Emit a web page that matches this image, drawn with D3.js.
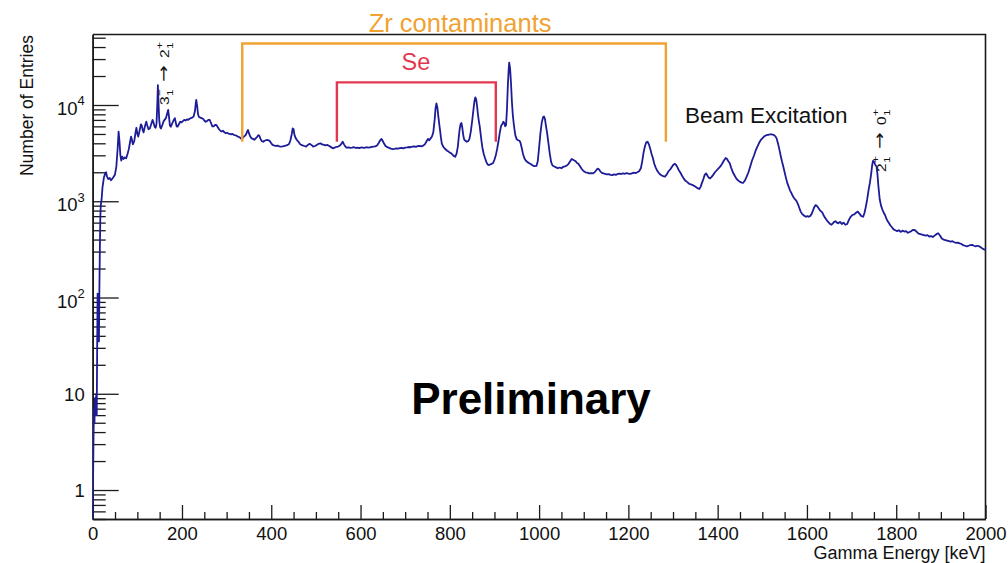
<!DOCTYPE html>
<html>
<head>
<meta charset="utf-8">
<script src="https://cdn.jsdelivr.net/npm/d3@7"></script>
<style>
  html, body { margin: 0; padding: 0; background: #fff; }
  svg { display: block; font-family: "Liberation Sans", Arial, Helvetica, sans-serif; }
</style>
</head>
<body>
<svg id="chart" width="1008" height="563"></svg>
<script>
// Gamma-ray spectrum: [energy (keV), entries]
const spectrumPoints = [
  [0,0.5],[1,1.5],[2,4],[3,7],[4,5],[5,9],[6,6],[7,8],[8,10],[9,6],[10,30],[11,110],[12,45],[13,95],[14,35],[15,125],
  [16,300],[17,650],[18,900],[20,1050],[22,1400],[25,1750],[28,1950],[30,2000],[32,1800],[35,1700],[38,1750],[41,1650],
  [44,1720],[47,1800],[50,1900],[53,2300],[56,3600],[58,5300],[60,4200],[62,3000],[64,2650],[66,2900],[69,2750],[72,2850],
  [75,2800],[78,3100],[81,3500],[84,4200],[86,4700],[88,4300],[90,3900],[93,4200],[96,5200],[98,5800],[100,5000],[102,4700],
  [105,5400],[108,6300],[110,6100],[112,5500],[114,5200],[117,6000],[120,6700],[122,6200],[125,5600],[128,5700],[131,6300],
  [134,7000],[136,6600],[139,5900],[141,5800],[143,6400],[145,11000],[146,16100],[147,12000],[149,7000],[151,5900],[153,5700],
  [156,6200],[159,6800],[161,7000],[164,7300],[167,8200],[169,8900],[171,7500],[173,6100],[175,5950],[178,6400],[181,6900],
  [184,7300],[186,6600],[188,6000],[190,5950],[193,6300],[196,6700],[199,6600],[202,6800],[205,7000],[208,6900],[211,7100],
  [214,7000],[217,7200],[220,7300],[223,7400],[226,7600],[229,8600],[231,10500],[232,11300],[234,9800],[236,8000],[238,7500],
  [241,7400],[244,7300],[247,7200],[250,6900],[253,6700],[256,6800],[259,7000],[262,7000],[265,6500],[268,6000],[271,6000],
  [274,6200],[277,6200],[280,5900],[283,5600],[286,5400],[289,5300],[292,5400],[295,5200],[298,5100],[301,5150],[304,5050],
  [307,5000],[310,4950],[313,5000],[316,4900],[319,4850],[322,4800],[325,4700],[328,4650],[331,4550],[334,4400],[337,4600],
  [340,4750],[343,4900],[346,5300],[348,5500],[350,5100],[353,4700],[356,4500],[359,4450],[362,4350],[365,4500],[368,4650],
  [371,4850],[373,4800],[376,4450],[379,4200],[382,4150],[385,4250],[388,4300],[391,4350],[394,4300],[397,4200],[400,4000],
  [403,3850],[406,3800],[410,3750],[414,3780],[418,3720],[422,3700],[426,3720],[430,3760],[434,3800],[437,3850],[440,3950],
  [443,4300],[446,5000],[448,5700],[450,5600],[452,4900],[455,4500],[458,4300],[461,4150],[464,3950],[467,3850],[470,3800],
  [474,3750],[478,3700],[482,3850],[486,3950],[490,3850],[494,3700],[498,3750],[502,3850],[506,3950],[510,4000],[514,3900],
  [518,3850],[522,3800],[526,3850],[530,3750],[534,3650],[538,3550],[542,3600],[546,3680],[550,3700],[554,3800],[557,3950],
  [560,4150],[563,3900],[566,3700],[569,3600],[573,3620],[577,3580],[581,3600],[585,3640],[589,3580],[593,3600],[597,3560],
  [601,3620],[605,3600],[609,3580],[613,3640],[617,3600],[621,3620],[625,3680],[629,3700],[633,3720],[637,3800],[641,4050],
  [644,4300],[647,4450],[650,4200],[653,3950],[656,3750],[660,3650],[664,3580],[668,3520],[672,3480],[676,3500],[680,3540],
  [684,3520],[688,3560],[692,3580],[696,3550],[700,3600],[704,3620],[708,3660],[712,3640],[716,3700],[720,3720],[724,3680],
  [728,3740],[732,3760],[736,3720],[740,3780],[744,3900],[748,4200],[751,4450],[754,4300],[757,4500],[760,4700],[763,5200],
  [766,7000],[768,9200],[770,10400],[772,9500],[774,7800],[776,6500],[778,5500],[780,4600],[782,4000],[785,3700],[788,3550],
  [791,3450],[794,3350],[797,3280],[800,3200],[803,3150],[806,3050],[809,2950],[812,2900],[815,3100],[818,3700],[820,4600],
  [822,5600],[824,6300],[826,6500],[828,5800],[830,4900],[832,4400],[835,4250],[838,4150],[841,4200],[844,4450],[847,5300],
  [850,6800],[853,9000],[855,10800],[857,12000],[859,11500],[861,9800],[863,8000],[865,6800],[867,6000],[869,5000],[871,4200],
  [873,3600],[876,3100],[879,2800],[882,2550],[885,2400],[888,2380],[891,2420],[894,2450],[897,2500],[900,2700],[903,3000],
  [906,3500],[909,4200],[912,5200],[915,6100],[918,6400],[920,6700],[922,6500],[924,6000],[926,6200],[928,9000],[930,16000],
  [932,24000],[933,27500],[935,24000],[937,17000],[939,11000],[941,8000],[943,6500],[945,5500],[947,4800],[950,4400],[953,4300],
  [956,4250],[958,4100],[961,3600],[964,3100],[967,2800],[970,2650],[974,2550],[978,2480],[982,2420],[986,2350],[990,2320],
  [994,2330],[997,2600],[1000,3600],[1003,5100],[1006,6600],[1009,7500],[1011,7600],[1013,7200],[1015,6200],[1018,5100],
  [1021,4000],[1024,3100],[1027,2550],[1030,2350],[1034,2300],[1038,2250],[1042,2200],[1046,2240],[1050,2200],[1054,2280],
  [1058,2300],[1062,2350],[1066,2450],[1070,2620],[1073,2750],[1076,2700],[1079,2650],[1082,2600],[1085,2500],[1088,2450],
  [1092,2300],[1096,2150],[1100,2050],[1104,2000],[1108,1980],[1112,1950],[1116,1960],[1120,1950],[1124,1990],[1128,2100],
  [1131,2180],[1134,2150],[1137,2050],[1140,1980],[1144,1950],[1148,1920],[1152,1900],[1156,1910],[1160,1880],[1164,1870],
  [1168,1900],[1172,1880],[1176,1920],[1180,1940],[1184,1920],[1188,1950],[1192,1930],[1196,1960],[1200,1940],[1204,1920],
  [1208,1950],[1212,1980],[1216,1960],[1220,2000],[1224,2050],[1228,2200],[1231,2600],[1234,3200],[1237,3700],[1240,4100],
  [1243,4150],[1246,3900],[1249,3500],[1252,3100],[1255,2800],[1258,2450],[1261,2250],[1264,2100],[1267,2000],[1270,1920],
  [1274,1860],[1278,1820],[1282,1800],[1286,1900],[1290,2050],[1294,2150],[1298,2300],[1301,2400],[1304,2450],[1307,2380],
  [1310,2250],[1313,2100],[1316,2000],[1320,1850],[1324,1720],[1328,1630],[1332,1580],[1336,1520],[1340,1500],[1344,1470],
  [1348,1440],[1352,1400],[1356,1360],[1359,1340],[1362,1420],[1365,1560],[1368,1700],[1371,1880],[1374,1950],[1377,1850],
  [1380,1760],[1383,1730],[1386,1780],[1390,1880],[1394,2000],[1398,2100],[1402,2200],[1406,2300],[1410,2450],[1414,2650],
  [1418,2820],[1421,2750],[1424,2600],[1427,2480],[1430,2250],[1434,2000],[1438,1850],[1442,1720],[1446,1640],[1450,1590],
  [1454,1560],[1457,1550],[1461,1640],[1465,1800],[1469,2000],[1473,2300],[1477,2650],[1481,2950],[1485,3350],[1489,3700],
  [1493,4050],[1497,4350],[1501,4550],[1505,4750],[1509,4850],[1513,4900],[1517,4950],[1521,4950],[1525,4900],[1529,4750],
  [1532,4500],[1535,4000],[1538,3500],[1541,3000],[1544,2600],[1547,2300],[1550,2000],[1553,1750],[1556,1550],[1559,1420],
  [1562,1300],[1565,1220],[1568,1140],[1571,1080],[1574,1040],[1577,1000],[1580,930],[1583,850],[1586,780],[1589,740],
  [1592,720],[1595,700],[1598,690],[1601,700],[1604,690],[1607,700],[1610,730],[1613,790],[1616,860],[1619,910],[1622,900],
  [1625,860],[1628,820],[1631,790],[1634,770],[1637,720],[1640,680],[1643,650],[1646,620],[1649,600],[1652,580],[1655,570],
  [1658,590],[1661,610],[1664,620],[1667,600],[1670,590],[1674,610],[1678,580],[1682,600],[1686,570],[1690,580],[1694,640],
  [1698,690],[1702,720],[1706,730],[1710,760],[1714,780],[1718,740],[1722,700],[1726,690],[1729,760],[1732,880],[1735,1050],
  [1738,1300],[1741,1550],[1744,1950],[1746,2350],[1748,2630],[1750,2600],[1752,2450],[1754,2350],[1756,2300],[1758,1900],
  [1760,1450],[1763,1050],[1766,900],[1769,820],[1772,760],[1775,720],[1778,660],[1781,620],[1784,590],[1787,560],[1790,540],
  [1794,510],[1798,500],[1802,490],[1806,500],[1810,480],[1814,495],[1818,485],[1822,490],[1826,470],[1830,480],[1834,490],
  [1838,505],[1842,500],[1846,480],[1850,460],[1854,455],[1858,450],[1862,445],[1866,440],[1870,445],[1874,430],[1878,435],
  [1882,425],[1886,440],[1890,455],[1894,465],[1898,440],[1902,410],[1906,400],[1910,395],[1914,390],[1918,385],[1922,380],
  [1926,385],[1930,375],[1934,370],[1938,372],[1942,365],[1946,360],[1950,350],[1954,345],[1958,340],[1962,345],[1966,350],
  [1970,352],[1974,345],[1978,340],[1982,345],[1986,340],[1990,330],[1994,320],[1998,315],[2000,312]
];

const xTickValues = [0, 200, 400, 600, 800, 1000, 1200, 1400, 1600, 1800, 2000];
const yTickValues = [1, 10, 100, 1000, 10000];
const yTickBase = ["1", "10", "10", "10", "10"];
const yTickExp = ["", "", "2", "3", "4"];

// Annotation brackets: energy span (keV) and entries levels [foot, top]
const zrRange = [335, 1284];
const zrLevels = [4150, 43500];
const seRange = [547, 903];
const seLevels = [4150, 17200];

const svg = d3.select("#chart");
const x = d3.scaleLinear().domain([0, 2000]).range([92.7, 985.5]);
const y = d3.scaleLog().domain([0.5, 54000]).range([519, 34.5]);

const axisColor = "#1a1a1a";
const lineColor = "#1c1c98";
const zrColor = "#f0a232";
const seColor = "#e2384f";
const fontFamily = "'Liberation Sans', Arial, sans-serif";

// Clip region for the spectrum
svg.append("defs").append("clipPath").attr("id", "plotClip")
  .append("rect")
  .attr("x", x.range()[0]).attr("y", y.range()[1])
  .attr("width", x.range()[1] - x.range()[0])
  .attr("height", y.range()[0] - y.range()[1]);

// Minor tick positions
const xMinor = d3.range(0, 2001, 50).filter(v => v % 200 !== 0);
const yMinor = [];
for (let e = -1; e <= 4; e++) {
  for (let k = 2; k <= 9; k++) {
    const v = +(k * Math.pow(10, e)).toPrecision(6);
    if (v >= 0.5 && v <= 54000) yMinor.push(v);
  }
}

// X axis (ticks pointing into the frame)
const xBase = `translate(0,${y.range()[0]})`;
const gxMinor = svg.append("g").attr("transform", xBase).attr("color", axisColor);
gxMinor.call(d3.axisBottom(x).tickValues(xMinor).tickSizeInner(-7).tickSizeOuter(0).tickFormat(""));
const gx = svg.append("g").attr("transform", xBase).attr("color", axisColor);
gx.call(d3.axisBottom(x).tickValues(xTickValues).tickSizeInner(-14).tickSizeOuter(0).tickFormat(d3.format("d")));
gx.selectAll(".tick text").attr("font-size", 18.5).attr("fill", "#111")
  .attr("font-family", fontFamily).attr("dy", 0).attr("y", 21);

// Y axis (log)
const yBase = `translate(${x.range()[0]},0)`;
const gyMinor = svg.append("g").attr("transform", yBase).attr("color", axisColor);
gyMinor.call(d3.axisLeft(y).tickValues(yMinor).tickSizeInner(-13).tickSizeOuter(0).tickFormat(""));
const gy = svg.append("g").attr("transform", yBase).attr("color", axisColor);
gy.call(d3.axisLeft(y).tickValues(yTickValues).tickSizeInner(-26).tickSizeOuter(0).tickFormat(() => ""));
gy.selectAll(".tick text").each(function(d) {
  const i = yTickValues.indexOf(d);
  const t = d3.select(this)
    .attr("font-size", 18.5).attr("fill", "#111")
    .attr("font-family", fontFamily)
    .attr("x", -8);
  t.text(null);
  if (yTickExp[i]) {
    t.attr("dy", "0.52em");
    t.append("tspan").text(yTickBase[i]);
    t.append("tspan").text(yTickExp[i]).attr("font-size", 13).attr("dy", "-0.75em");
  } else {
    t.attr("dy", "0.35em");
    t.append("tspan").text(yTickBase[i]);
  }
});
svg.selectAll("path.domain").attr("stroke-width", 1.6);
svg.selectAll(".tick line").attr("stroke-width", 1.3);

// Frame top and right edges
svg.append("path")
  .attr("d", `M${x.range()[0]},${y.range()[1]}H${x.range()[1]}V${y.range()[0]}`)
  .attr("fill", "none").attr("stroke", axisColor).attr("stroke-width", 1.6);

// Spectrum line
const line = d3.line()
  .x(d => x(d[0]))
  .y(d => y(Math.max(d[1], 0.5)));
svg.append("path")
  .datum(spectrumPoints)
  .attr("clip-path", "url(#plotClip)")
  .attr("d", line)
  .attr("fill", "none")
  .attr("stroke", lineColor)
  .attr("stroke-width", 1.8)
  .attr("stroke-linejoin", "round");

// Brackets
function bracket(range, levels, color) {
  svg.append("path")
    .attr("d", `M${x(range[0])},${y(levels[0])}V${y(levels[1])}H${x(range[1])}V${y(levels[0])}`)
    .attr("fill", "none").attr("stroke", color).attr("stroke-width", 2.4);
}
bracket(zrRange, zrLevels, zrColor);
bracket(seRange, seLevels, seColor);

svg.append("text")
  .attr("x", x((zrRange[0] + zrRange[1]) / 2) + 6).attr("y", 32)
  .attr("text-anchor", "middle").attr("font-size", 25.5).attr("fill", zrColor)
  .text("Zr contaminants");
svg.append("text")
  .attr("x", x((seRange[0] + seRange[1]) / 2) - 0.5).attr("y", 70)
  .attr("text-anchor", "middle").attr("font-size", 23.5).attr("fill", seColor)
  .text("Se");
svg.append("text")
  .attr("x", 685).attr("y", 123)
  .attr("font-size", 22.5).attr("fill", "#111")
  .text("Beam Excitation");

// Transition labels (rotated, with sub/superscripts)
function transitionLabel(px, py, parts) {
  const g = svg.append("g").attr("transform", `translate(${px},${py}) rotate(-90) scale(1,0.8)`);
  let cx = 0;
  parts.forEach(p => {
    if (p.main) {
      const t = g.append("text").attr("x", cx).attr("y", 0).attr("font-size", 15.5).attr("fill", "#111").text(p.main);
      cx += t.node().getComputedTextLength() + 0.5;
    } else if (p.arrow) {
      cx += 7;
      const t = g.append("text").attr("x", cx).attr("y", -0.5).attr("font-size", 20).attr("fill", "#111")
        .attr("font-family", "'DejaVu Sans', sans-serif").text("\u2192");
      cx += t.node().getComputedTextLength() + 7;
    } else {
      const a = g.append("text").attr("x", cx).attr("y", 5).attr("font-size", 12).attr("fill", "#111").text(p.sub);
      const b = g.append("text").attr("x", cx).attr("y", -8).attr("font-size", 12).attr("fill", "#111").text(p.sup);
      cx += Math.max(a.node().getComputedTextLength(), b.node().getComputedTextLength());
    }
  });
}
transitionLabel(169, 105, [{main: "3"}, {sub: "1", sup: "\u2212"}, {arrow: true}, {main: "2"}, {sub: "1", sup: "+"}]);
transitionLabel(885.5, 172, [{main: "2"}, {sub: "1", sup: "+"}, {arrow: true}, {main: "0"}, {sub: "1", sup: "+"}]);

// Axis titles
svg.append("text")
  .attr("transform", "translate(33,35) rotate(-90)")
  .attr("text-anchor", "end").attr("font-size", 17.5).attr("fill", "#111")
  .text("Number of Entries");
svg.append("text")
  .attr("x", 985.5).attr("y", 559)
  .attr("text-anchor", "end").attr("font-size", 18).attr("fill", "#111")
  .text("Gamma Energy [keV]");

// Watermark
svg.append("text")
  .attr("x", 531).attr("y", 414)
  .attr("text-anchor", "middle").attr("font-size", 44).attr("font-weight", "bold").attr("fill", "#000")
  .text("Preliminary");
</script>
</body>
</html>
